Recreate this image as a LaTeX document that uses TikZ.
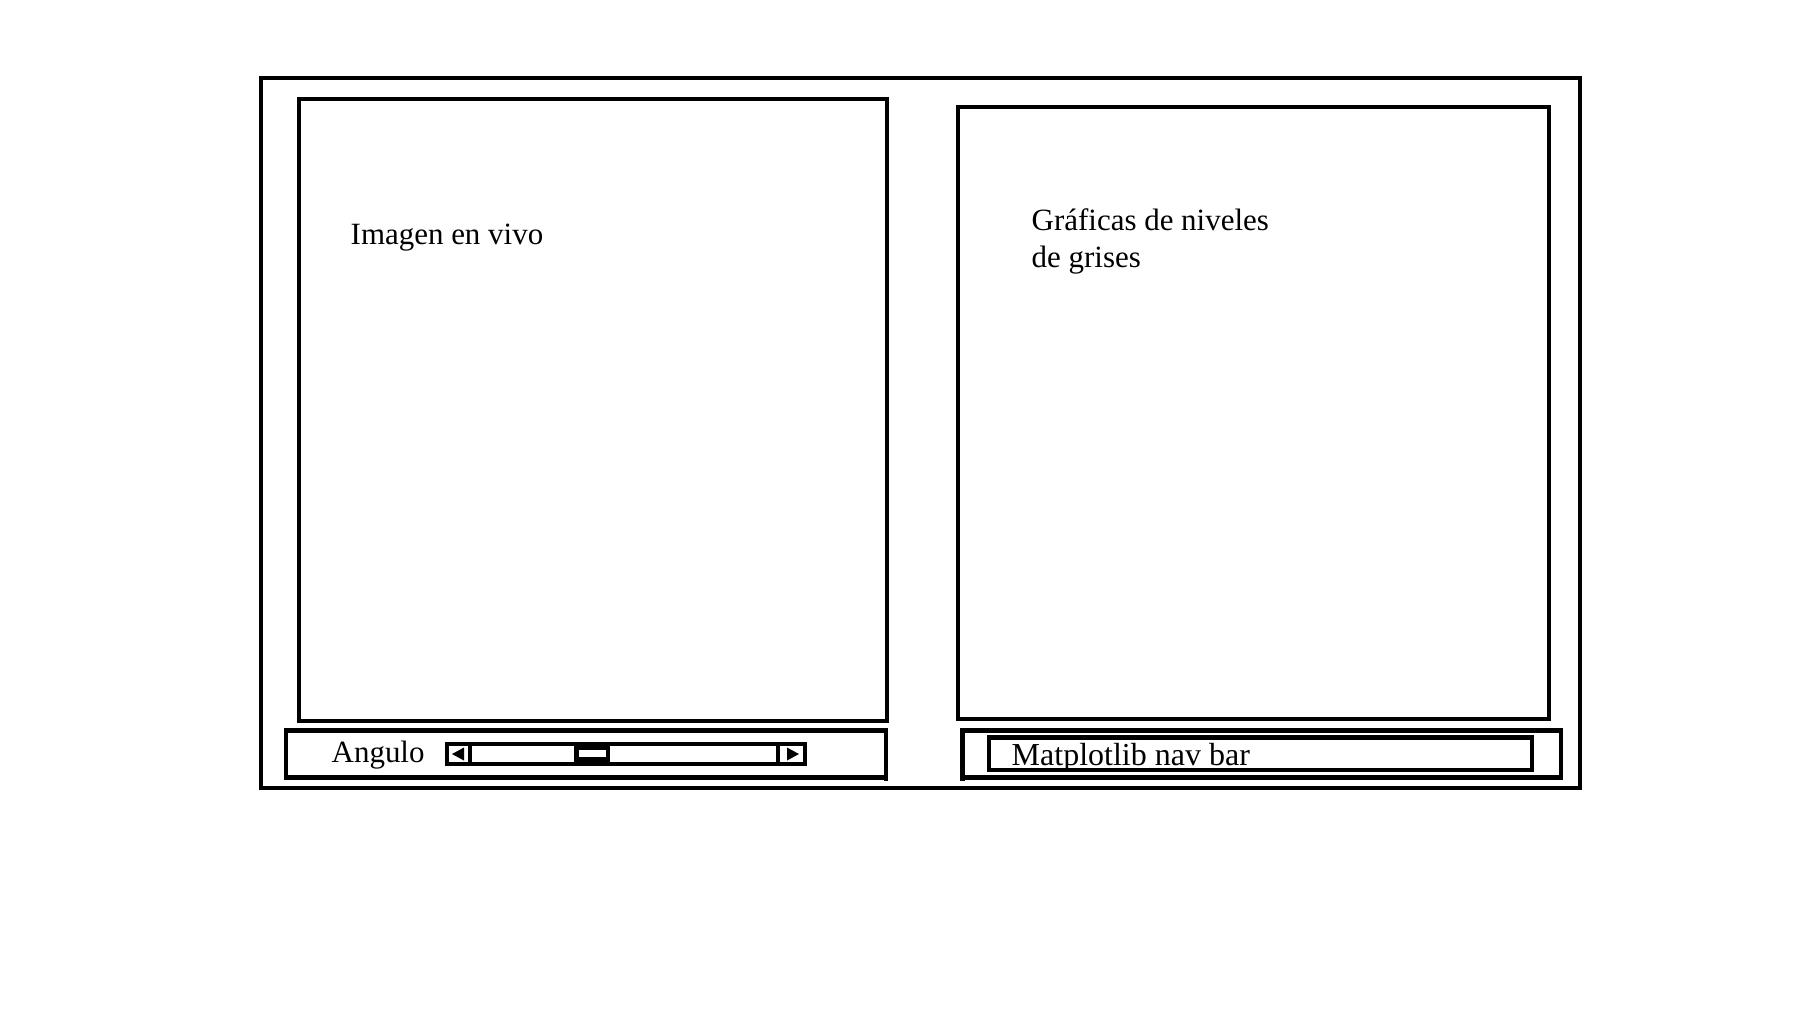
\documentclass[tikz,border=0pt]{standalone}
\usepackage{fontspec}
\setmainfont{Liberation Serif}
\usetikzlibrary{positioning}
\tikzset{>=latex}
\tikzset{
  frame/.style={line width=1.3pt,black},
  txt/.style={anchor=base west,inner sep=0,font=\fontsize{8.8}{10.1}\selectfont},
}

\begin{document}
\begin{tikzpicture}[x=0.01cm,y=-0.01cm]
  \useasboundingbox (0,0) rectangle (1801,1017);
  % Window
  \draw[frame] (261,78) rectangle (1580,788);

  % Live image panel
  \draw[frame] (299,99) rectangle (887,721);
  \node[txt] (Imagen) at (350,244) {Imagen en vivo};

  % Grey level plots panel
  \draw[frame] (958,107) rectangle (1549,719);
  \node[txt,align=left,font=\fontsize{8.8}{10.5}\selectfont] (Graficas) at (1031,267.5) {Gráficas de niveles\\de grises};

  % Angle slider bar
  \draw[frame] (286,730.5) rectangle (886,777.5);
  \draw[frame] (886,730.5) -- (886,781);
  \node[txt] (Angulo) at (331,762) {Angulo};
  \draw[frame] (447,744) rectangle (805,764);
  \draw[frame] (470,744) -- (470,766);
  \draw[frame] (778,744) -- (778,764);
  \fill (452,754) -- (464,747.5) -- (464,760.5) -- cycle;
  \fill (799,754) -- (787,747.5) -- (787,760.5) -- cycle;
  \fill (574,746) rectangle (610,762);
  \fill[white] (578.5,749.5) rectangle (605.5,756.5);

  % Navigation bar
  \draw[frame] (962.5,730.5) rectangle (1561,777.5);
  \draw[frame] (962.5,730.5) -- (962.5,781);
  \draw[frame] (989,737.5) rectangle (1532,770);
  \node[txt,font=\fontsize{9.1}{10.5}\selectfont] (NavBar) at (1011,765) {Matplotlib nav bar};
\end{tikzpicture}
\end{document}
